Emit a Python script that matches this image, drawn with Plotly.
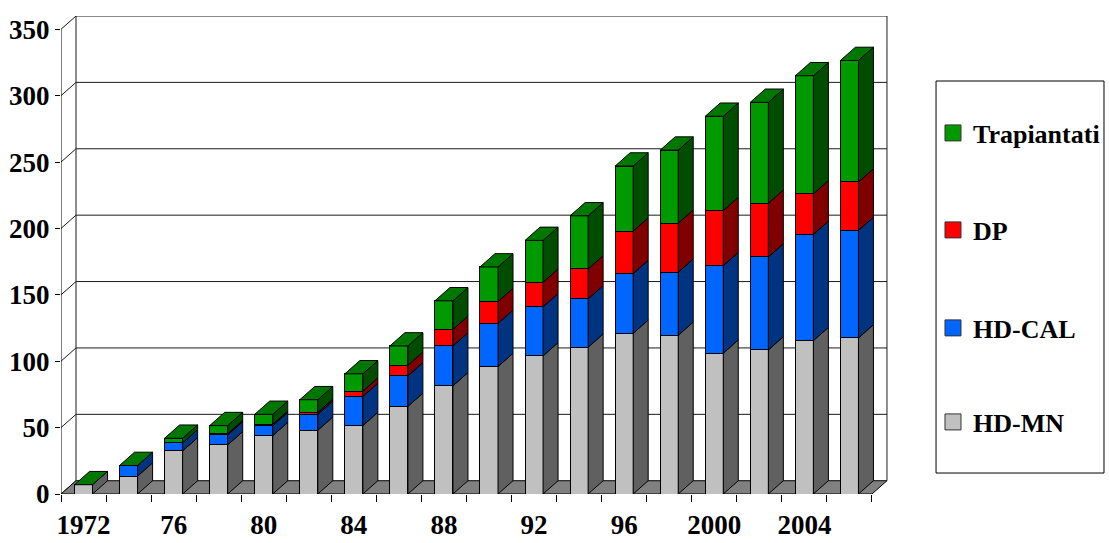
import plotly.graph_objects as go

# Pazienti per modalità di trattamento, 1972-2006 (ogni due anni)
years = [1972, 1974, 1976, 1978, 1980, 1982, 1984, 1986, 1988,
         1990, 1992, 1994, 1996, 1998, 2000, 2002, 2004, 2006]
hd_mn = [7, 13.5, 32.5, 37, 44, 48, 51.5, 66, 81.5,
         96, 104, 110.5, 121, 119.5, 106, 108.5, 115.5, 117.5]
hd_cal = [0, 8, 6, 7.5, 7.5, 12, 22, 23, 30,
          32.5, 37, 36.5, 45, 47.5, 66, 70, 80, 81]
dp = [0, 0, 0, 1, 1, 1.5, 4, 8, 12.5,
      16.5, 18.5, 22.5, 32, 37, 41.5, 40.5, 30.5, 36.5]
trapiantati = [0, 0, 3.5, 6, 7.5, 9.5, 13, 14.5, 21.5,
               26, 31.5, 40, 49, 55, 71, 76, 89, 91.5]

tick_labels = ["1972", "76", "80", "84", "88", "92", "96", "2000", "2004"]
y_ticks = [0, 50, 100, 150, 200, 250, 300, 350]

series = [
    ("HD-MN", hd_mn, "#C0C0C0", "#606060"),
    ("HD-CAL", hd_cal, "#0066FF", "#003380"),
    ("DP", dp, "#FF0000", "#800000"),
    ("Trapiantati", trapiantati, "#009900", "#004D00"),
]
top_colour = "#007800"

# pseudo-3D geometry (data units)
n = len(years)
pos = list(range(n))
bar_w = 0.4
ddx = 0.333          # depth shift along x
ddy = 10.0           # depth shift along y
y_max = 350
font = dict(family="Liberation Serif", size=26, color="black", weight="bold")
axis_font = dict(font, size=27)

fig = go.Figure()

# front faces: stacked bars
for name, vals, front, side in series:
    fig.add_trace(go.Bar(
        x=pos, y=vals, name=name, width=bar_w,
        marker=dict(color=front, line=dict(color="black", width=1)),
        showlegend=False, hoverinfo="y+name",
    ))

# side faces of every segment and top face of every stack
base = [0.0] * n
for name, vals, front, side in series:
    xs, ys = [], []
    for i in range(n):
        b, t = base[i], base[i] + vals[i]
        xr = pos[i] + bar_w / 2
        if t > b:
            xs += [xr, xr + ddx, xr + ddx, xr, xr, None]
            ys += [b, b + ddy, t + ddy, t, b, None]
        base[i] = t
    fig.add_trace(go.Scatter(
        x=xs, y=ys, mode="lines", fill="toself", fillcolor=side,
        line=dict(color="black", width=1), showlegend=False, hoverinfo="skip",
    ))

xt, yt = [], []
for i in range(n):
    xl, xr, t = pos[i] - bar_w / 2, pos[i] + bar_w / 2, base[i]
    xt += [xl, xl + ddx, xr + ddx, xr, xl, None]
    yt += [t, t + ddy, t + ddy, t, t, None]
fig.add_trace(go.Scatter(
    x=xt, y=yt, mode="lines", fill="toself", fillcolor=top_colour,
    line=dict(color="black", width=1), showlegend=False, hoverinfo="skip",
))

# legend entries: one legend per series, square swatches
legend_ids = {"Trapiantati": "legend", "DP": "legend2", "HD-CAL": "legend3", "HD-MN": "legend4"}
for name, vals, front, side in series:
    fig.add_trace(go.Scatter(
        x=[None], y=[None], mode="markers", name=name, legend=legend_ids[name],
        marker=dict(symbol="square", size=16, color=front,
                    line=dict(color="#333333", width=1)),
        hoverinfo="skip",
    ))

# walls, grid and floor
x0, x1 = -0.5, n - 0.5
shapes = []
grid = dict(color="#1a1a1a", width=1)
for v in y_ticks:
    shapes.append(dict(type="line", xref="x", yref="y", layer="below",
                       x0=x0, y0=v, x1=x0 + ddx, y1=v + ddy, line=grid))
    if v > 0:
        shapes.append(dict(type="line", xref="x", yref="y", layer="below",
                           x0=x0 + ddx, y0=v + ddy, x1=x1 + ddx, y1=v + ddy, line=grid))
shapes.append(dict(type="line", xref="x", yref="y", layer="below",
                   x0=x0 + ddx, y0=ddy, x1=x0 + ddx, y1=y_max + ddy, line=grid))
shapes.append(dict(type="line", xref="x", yref="y", layer="below",
                   x0=x1 + ddx, y0=ddy, x1=x1 + ddx, y1=y_max + ddy, line=grid))
shapes.append(dict(type="line", xref="x", yref="y", layer="below",
                   x0=x0, y0=0, x1=x0, y1=y_max, line=dict(color="black", width=1)))
shapes.append(dict(
    type="path", xref="x", yref="y", layer="below",
    path=f"M {x0},0 L {x1},0 L {x1 + ddx},{ddy} L {x0 + ddx},{ddy} Z",
    fillcolor="#808080", line=dict(color="black", width=1),
))
# legend frame
shapes.append(dict(type="rect", xref="paper", yref="paper",
                   x0=1.0331, y0=0.0439, x1=1.2314, y1=0.864,
                   line=dict(color="black", width=1), fillcolor="rgba(0,0,0,0)"))

legend_y = {"legend": 0.7552, "legend2": 0.5523, "legend3": 0.3473, "legend4": 0.1506}
layout_legends = {}
for key, yv in legend_y.items():
    layout_legends[key] = dict(
        x=1.0295, xanchor="left", y=yv, yanchor="middle",
        font=font, bgcolor="rgba(0,0,0,0)", borderwidth=0, itemsizing="trace",
    )

fig.update_layout(
    width=1109, height=543,
    margin=dict(l=61, r=201, t=16, b=49, autoexpand=False),
    paper_bgcolor="white", plot_bgcolor="white",
    barmode="stack", bargap=0.6,
    showlegend=True,
    shapes=shapes,
    xaxis=dict(
        range=[-0.5, 18.3], showgrid=False, zeroline=False, showline=False,
        tickmode="array", tickvals=pos[::2], ticktext=tick_labels,
        ticks="", tickfont=axis_font, ticklabelstandoff=12,
        minor=dict(tickmode="linear", tick0=-0.5, dtick=1, ticks="outside",
                   ticklen=7, tickcolor="black", tickwidth=1, showgrid=False),
    ),
    yaxis=dict(
        range=[0, 360], showgrid=False, zeroline=False, showline=False,
        tickmode="array", tickvals=y_ticks, ticks="outside", ticklen=5,
        tickcolor="black", tickfont=axis_font,
    ),
    **layout_legends,
)

fig.write_html("out.html")
